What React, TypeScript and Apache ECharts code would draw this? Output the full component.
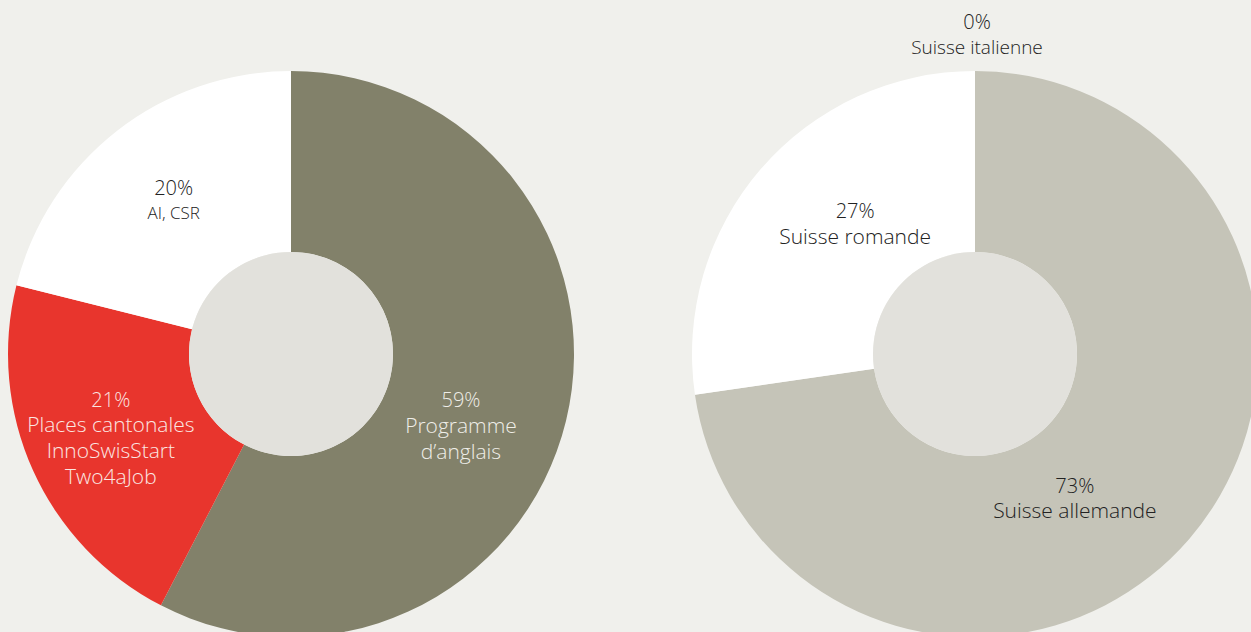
import React, { useEffect, useRef } from "react";
import * as echarts from "echarts";

// Left donut: programmes (slice sizes as drawn, labels as printed)
const leftNames = ["Programme\nd’anglais", "Places cantonales\nInnoSwisStart\nTwo4aJob", "AI, CSR"];
const leftValues = [57.6, 21.3, 21.1];
const leftPercents = ["59%", "21%", "20%"];
const leftColors = ["#82816a", "#e8352d", "#ffffff"];
const leftTextColors = ["#efeee8", "#fbe6e2", "#222222"];

// Right donut: regions
const rightNames = ["Suisse allemande", "Suisse romande", "Suisse italienne"];
const rightValues = [72.7, 27.3, 0];
const rightPercents = ["73%", "27%", "0%"];
const rightColors = ["#c5c4b8", "#ffffff", "#c5c4b8"];
const rightTextColors = ["#222222", "#222222", "#222222"];

// label nudges (px) relative to ECharts' inside position
const leftNudge = [[-20, 25], [-2, 3], [3, 0]];
const rightNudge = [[-48, 16], [28, -3], [2, -124]];

const BG = "#f0f0ec";
const HOLE = "#e2e1dc";
const FONT = "'Open Sans', 'Noto Sans', sans-serif";

function buildData(
  names: string[],
  values: number[],
  percents: string[],
  colors: string[],
  textColors: string[],
  nameSizes: number[]
) {
  return values.map((v, i) => ({
    name: names[i],
    value: v,
    pct: percents[i],
    itemStyle: { color: colors[i] },
    label: {
      color: textColors[i],
      rich: {
        p: { fontSize: 20, lineHeight: 25, color: textColors[i], fontFamily: FONT, fontWeight: 300 },
        n: { fontSize: nameSizes[i], lineHeight: 25.6, color: textColors[i], fontFamily: FONT, fontWeight: 300 },
      },
    },
  }));
}

export default function App() {
  const ref = useRef<HTMLDivElement>(null);
  useEffect(() => {
    document.body.style.margin = "0";
    document.body.style.background = BG;
    if (!ref.current) return;
    const chart = echarts.init(ref.current, undefined, { renderer: "svg" });
    const fmt = (p: any) => {
      const lines = String(p.name).split("\n").map((l: string) => `{n|${l}}`);
      return [`{p|${p.data.pct}}`, ...lines].join("\n");
    };
    const common = {
      type: "pie",
      radius: [102, 283],
      startAngle: 90,
      clockwise: true,
      avoidLabelOverlap: false,
      stillShowZeroSum: true,
      minShowLabelAngle: -1,
      label: { show: true, position: "inside", formatter: fmt, fontFamily: FONT },
      labelLine: { show: false },
      itemStyle: { borderWidth: 0 },
      emphasis: { disabled: true },
      silent: true,
    };
    chart.setOption({
      animation: false,
      backgroundColor: BG,
      series: [
        {
          ...common,
          center: [291, 354],
          data: buildData(leftNames, leftValues, leftPercents, leftColors, leftTextColors, [21, 21, 17]),
          labelLayout: (params: any) => ({ dx: leftNudge[params.dataIndex][0], dy: leftNudge[params.dataIndex][1] }),
        },
        {
          ...common,
          center: [975, 354],
          data: buildData(rightNames, rightValues, rightPercents, rightColors, rightTextColors, [21, 21, 19]),
          labelLayout: (params: any) => ({ dx: rightNudge[params.dataIndex][0], dy: rightNudge[params.dataIndex][1] }),
        },
        {
          type: "pie",
          center: [291, 354],
          radius: [0, 102],
          silent: true,
          label: { show: false },
          labelLine: { show: false },
          data: [{ value: 1, name: "", itemStyle: { color: HOLE } }],
        },
        {
          type: "pie",
          center: [975, 354],
          radius: [0, 102],
          silent: true,
          label: { show: false },
          labelLine: { show: false },
          data: [{ value: 1, name: "", itemStyle: { color: HOLE } }],
        },
      ],
    });
    return () => chart.dispose();
  }, []);
  return <div ref={ref} style={{ width: 1251, height: 632 }} />;
}
